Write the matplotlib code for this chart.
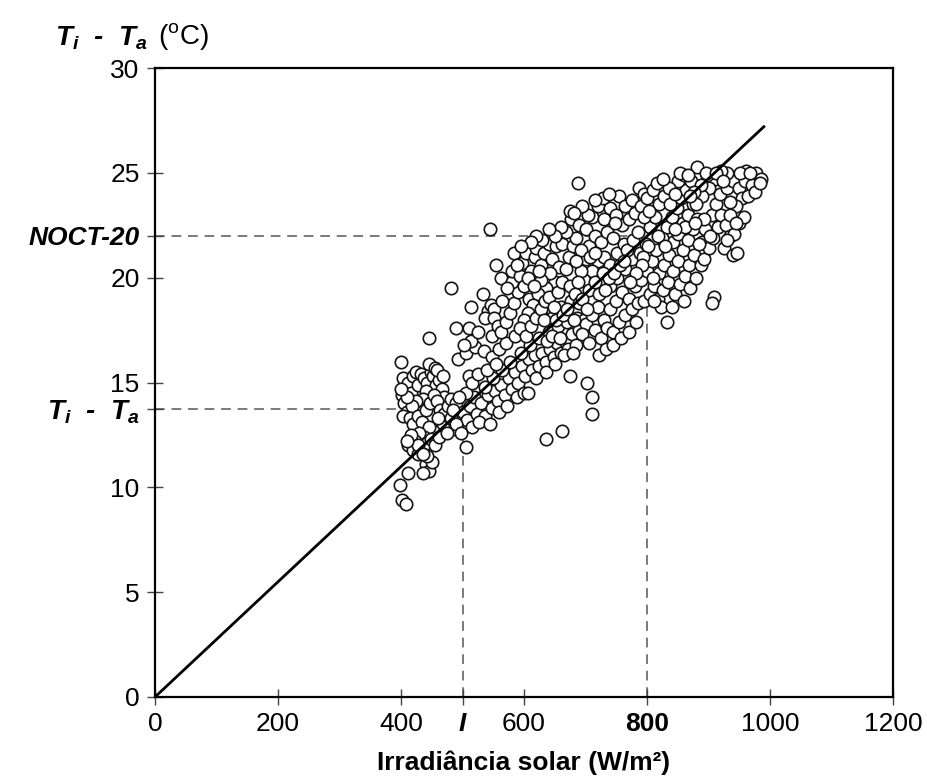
import matplotlib
matplotlib.use("Agg")
import matplotlib.pyplot as plt
import numpy as np

# ---------------- data (irradiance W/m2, Ti - Ta in degC) ----------------
left_cluster = [
    (403, 15.2), (408, 14.8), (401, 14.4), (405, 14.0), (410, 13.6), (403, 13.4), (412, 15.0), (416, 14.5),
    (420, 15.3), (425, 15.5), (428, 14.9), (432, 15.4), (438, 15.2), (443, 15.0), (448, 15.5), (452, 15.3),
    (457, 14.9), (462, 15.1), (466, 14.7), (470, 14.3), (440, 14.6), (435, 14.2), (430, 13.8), (424, 14.1),
    (418, 13.9), (414, 13.3), (420, 13.0), (427, 13.4), (434, 13.1), (441, 13.7), (447, 14.0), (453, 14.4),
    (459, 14.1), (464, 13.7), (470, 13.5), (476, 13.9), (481, 14.2), (475, 13.0), (468, 12.9), (460, 13.3),
    (452, 12.7), (445, 12.9), (437, 12.4), (430, 12.6), (423, 12.2), (416, 12.5), (412, 12.0), (419, 11.8),
    (427, 11.6), (435, 11.9), (442, 12.1), (448, 12.3), (456, 12.0), (462, 12.4), (488, 12.8), (495, 13.2),
    (482, 13.3), (490, 14.0), (409, 14.3), (446, 15.9), (455, 15.7), (412, 10.7), (440, 11.1), (446, 10.8),
    (450, 11.2), (436, 10.7), (443, 11.5), (398, 10.1), (402, 9.4), (408, 9.2), (400, 16.0), (445, 17.1),
    (475, 12.6), (428, 12.0), (409, 12.2), (435, 11.6), (400, 14.7), (458, 15.6), (468, 15.3), (506, 11.9),
]

middle_lower = [
    (500, 13.6), (507, 13.2), (512, 13.9), (518, 14.3), (523, 13.5), (530, 14.0), (536, 13.4), (542, 14.4),
    (548, 13.8), (553, 14.6), (558, 14.1), (563, 14.9), (569, 14.4), (575, 15.2), (580, 14.7), (585, 15.5),
    (591, 15.0), (596, 15.8), (602, 15.3), (608, 16.1), (613, 15.6), (618, 16.3), (624, 15.8), (630, 16.4),
    (636, 16.0), (642, 16.6), (648, 16.2), (654, 16.9), (660, 16.4), (666, 17.0), (672, 16.6), (678, 17.3),
    (684, 16.8), (690, 17.5), (505, 14.5), (515, 12.9), (527, 13.1), (545, 13.0), (560, 13.6), (572, 13.9),
    (588, 14.3), (600, 14.5), (607, 14.5), (620, 15.2), (635, 15.5), (650, 15.9), (665, 16.3), (680, 16.4),
    (490, 13.0), (497, 12.6), (485, 13.7), (494, 14.3), (537, 14.8), (550, 15.2), (565, 15.6), (578, 16.0),
    (595, 16.4), (610, 16.8), (625, 17.1), (640, 17.4), (656, 17.7), (670, 17.9), (686, 18.1), (697, 18.0),
    (703, 15.0), (711, 14.3), (711, 13.5), (674, 15.3), (662, 12.7), (635, 12.3), (492, 16.1), (505, 16.4),
    (520, 16.7), (535, 16.5), (548, 16.2), (560, 16.6), (510, 15.3), (516, 15.0), (526, 15.4), (540, 15.6),
    (555, 15.9), (570, 16.9), (585, 17.2), (598, 17.5), (612, 17.9), (628, 18.2), (645, 18.1), (660, 18.6),
    (676, 18.9),
]

middle_upper = [
    (482, 19.5), (514, 18.6), (533, 19.2), (541, 18.4), (546, 18.7), (552, 18.5), (536, 18.1), (552, 18.1),
    (490, 17.6), (511, 17.6), (514, 17.0), (525, 17.4), (503, 16.8), (548, 17.2), (557, 17.7), (563, 17.4),
    (570, 17.9), (577, 18.3), (583, 18.8), (590, 19.3), (563, 20.0), (555, 20.6), (584, 21.2), (580, 19.8),
    (580, 20.3), (544, 22.3), (593, 20.1), (597, 20.7), (604, 21.2), (600, 19.6), (608, 19.0), (612, 20.3),
    (618, 21.0), (620, 21.4), (627, 20.6), (633, 21.2), (640, 21.6), (646, 20.9), (652, 21.5), (662, 21.6),
    (657, 20.5), (650, 19.8), (642, 20.2), (635, 19.5), (628, 19.9), (622, 19.2), (615, 18.7), (607, 18.3),
    (600, 18.0), (594, 17.6), (603, 17.2), (611, 17.7), (619, 18.1), (627, 18.5), (634, 18.9), (641, 19.1),
    (648, 18.6), (655, 19.3), (662, 19.8), (668, 20.4), (673, 21.0), (679, 21.5), (685, 21.9), (668, 22.2),
    (677, 22.8), (674, 23.2), (690, 22.5), (687, 24.5), (660, 22.4), (650, 22.0), (640, 22.3), (630, 21.8),
    (620, 22.0), (611, 21.7), (700, 22.3), (711, 22.9), (720, 23.4), (730, 22.8), (740, 23.3), (750, 23.0),
    (755, 23.9), (765, 23.4), (775, 23.7), (787, 24.3), (795, 24.0), (705, 21.5), (715, 22.0), (725, 21.7),
    (735, 22.2), (745, 21.9), (760, 22.5), (770, 22.8), (780, 23.1), (790, 23.4), (720, 20.8), (710, 20.3),
    (700, 20.9), (693, 21.3), (730, 21.0), (740, 20.6), (752, 21.2), (762, 21.6), (698, 19.9), (705, 19.4),
    (715, 19.8), (728, 20.2), (692, 20.3), (684, 20.8), (675, 19.6), (683, 19.2), (690, 18.8),
]

right_cluster = [
    (700, 17.8), (710, 18.2), (720, 18.6), (730, 18.0), (740, 18.5), (750, 18.9), (760, 19.3), (770, 19.0),
    (780, 19.6), (790, 19.9), (800, 20.3), (695, 17.3), (705, 16.9), (715, 17.5), (725, 17.1), (735, 17.6),
    (745, 17.4), (755, 17.9), (765, 18.2), (775, 18.5), (785, 18.8), (795, 18.9), (805, 19.2), (812, 19.6),
    (722, 16.3), (733, 16.6), (745, 16.8), (758, 17.1), (770, 17.4), (782, 17.9), (740, 19.6), (752, 20.0),
    (765, 20.4), (776, 20.9), (788, 21.2), (798, 21.6), (808, 20.8), (820, 20.2), (828, 20.6), (835, 21.1),
    (842, 21.7), (850, 22.1), (858, 22.6), (866, 23.0), (874, 23.5), (815, 21.3), (824, 21.9), (832, 22.4),
    (840, 22.9), (848, 23.3), (856, 23.8), (864, 24.2), (872, 24.6), (881, 25.3), (850, 24.6), (860, 24.9),
    (805, 22.4), (813, 22.9), (820, 23.5), (828, 23.9), (836, 24.3), (800, 23.8), (810, 24.2), (795, 22.9),
    (802, 21.5), (818, 19.0), (826, 19.4), (834, 19.8), (842, 20.3), (850, 20.8), (858, 21.3), (866, 21.8),
    (874, 22.3), (882, 22.8), (845, 19.2), (853, 19.7), (861, 20.1), (869, 20.6), (877, 21.1), (833, 17.9),
    (822, 18.6), (812, 18.9), (840, 18.6), (860, 18.9), (870, 19.5), (880, 20.0), (888, 20.6), (890, 21.7),
    (895, 22.3), (893, 20.9), (900, 21.4), (908, 21.9), (915, 22.4), (905, 23.0), (912, 23.5), (920, 23.0),
    (928, 22.5), (935, 22.0), (925, 21.4), (940, 21.1), (946, 21.2), (909, 19.1), (906, 18.8), (918, 24.0),
    (930, 24.3), (940, 24.6), (950, 24.3), (960, 24.6), (961, 25.1), (977, 25.0), (985, 24.7), (970, 24.4),
    (955, 23.8), (945, 23.4), (935, 23.0), (965, 23.9), (950, 22.6), (942, 22.1), (930, 25.0), (920, 25.1),
    (910, 24.7), (900, 24.3), (890, 23.9), (880, 23.5), (898, 24.9), (888, 24.4), (935, 23.6), (975, 24.1),
    (983, 24.5),
]

core_extra = [
    (565, 18.9), (572, 19.5), (588, 20.6), (595, 21.5), (606, 20.0), (616, 19.6), (624, 20.3), (632, 18.0),
    (638, 17.0), (646, 17.2), (652, 18.0), (658, 17.1), (664, 18.2), (670, 18.5), (682, 18.0), (688, 19.8),
    (695, 19.0), (702, 18.5), (708, 21.0), (716, 21.2), (722, 19.2), (732, 19.4), (738, 20.0), (746, 20.2),
    (756, 20.6), (768, 21.3), (778, 21.8), (786, 22.2), (794, 21.0), (804, 23.2), (816, 24.5), (826, 24.7),
    (838, 23.5), (846, 24.0), (854, 25.0), (866, 24.9), (876, 24.1), (884, 21.6), (892, 22.8), (902, 22.0),
    (896, 25.0), (912, 25.0), (924, 24.6), (952, 25.0), (968, 25.0), (958, 22.9), (944, 22.6), (930, 21.8),
    (862, 22.4), (870, 23.9), (878, 22.6), (818, 22.0), (830, 21.5), (846, 22.3), (810, 20.0), (792, 20.6),
    (782, 20.2), (772, 19.8), (762, 20.8), (748, 22.6), (728, 23.8), (738, 24.0), (716, 23.7), (704, 23.0),
    (694, 23.4), (682, 23.1),
]

fit_x = [0, 990]
fit_y = [0, 27.2]
noct_level = 22.0
noct_irr = 800
op_level = 13.75
op_irr = 500

x_ticks = [0, 200, 400, 500, 600, 800, 1000, 1200]
x_tick_labels = ["0", "200", "400", "I", "600", "800", "1000", "1200"]
y_ticks = [0, 5, 10, 13.75, 15, 20, 22, 25, 30]
ta_label = r"$\mathbf{T_i}$  -  $\mathbf{T_a}$"
y_tick_labels = ["0", "5", "10", ta_label, "15", "20", "NOCT-20", "25", "30"]

# ---------------- style ----------------
plt.rcParams["font.family"] = ["Liberation Sans", "DejaVu Sans"]
plt.rcParams["mathtext.fontset"] = "custom"
plt.rcParams["mathtext.bf"] = "Liberation Sans:bold:italic"
plt.rcParams["mathtext.rm"] = "Liberation Sans"
plt.rcParams["mathtext.it"] = "Liberation Sans:italic"

fig = plt.figure(figsize=(9.28, 7.82), dpi=100)
ax = fig.add_axes([155 / 928, 1 - 697 / 782, (893 - 155) / 928, (697 - 68) / 782])

pts = np.array(left_cluster + middle_lower + middle_upper + right_cluster + core_extra, dtype=float)

dash = (0, (5, 3.5))
dcol = "#7a7a7a"
ax.plot([0, noct_irr], [noct_level, noct_level], ls=dash, color=dcol, lw=1.4, zorder=1)
ax.plot([noct_irr, noct_irr], [0, noct_level], ls=dash, color=dcol, lw=1.4, zorder=1)
ax.plot([0, op_irr], [op_level, op_level], ls=dash, color=dcol, lw=1.4, zorder=1)
ax.plot([op_irr, op_irr], [0, op_level], ls=dash, color=dcol, lw=1.4, zorder=1)

ax.scatter(pts[:, 0], pts[:, 1], s=80, facecolors="white", edgecolors="#151515",
           linewidths=1.2, zorder=3)
ax.plot(fit_x, fit_y, color="black", lw=2.0, zorder=4)

ax.set_xlim(0, 1200)
ax.set_ylim(0, 30)
for s in ax.spines.values():
    s.set_linewidth(1.6)

ax.set_xticks(x_ticks)
ax.set_xticklabels(x_tick_labels, fontsize=19)
ax.set_yticks(y_ticks)
ax.set_yticklabels(y_tick_labels, fontsize=19)
ax.tick_params(axis="x", direction="inout", length=12, width=1.0, pad=5, color="#444444")
ax.tick_params(axis="y", direction="inout", length=12, width=1.0, pad=5, color="#444444")

for t in ax.get_xticklabels():
    if t.get_text() == "I":
        t.set_fontweight("bold")
        t.set_fontstyle("italic")
    if t.get_text() == "800":
        t.set_fontweight("bold")
for t in ax.get_yticklabels():
    if t.get_text() in ("NOCT-20", ta_label):
        t.set_fontweight("bold")
        t.set_fontstyle("italic")
        if t.get_text() == ta_label:
            t.set_fontsize(20)

fig.text(524 / 928, 1 - 763 / 782, "Irradiância solar (W/m²)", fontsize=19,
         fontweight="bold", ha="center", va="center")
fig.text(55 / 928, 1 - 38 / 782, ta_label, fontsize=20,
         fontweight="bold", fontstyle="italic", ha="left", va="center")
fig.text(158 / 928, 1 - 36 / 782, r"($^{\mathrm{o}}$C)", fontsize=20,
         ha="left", va="center")

fig.savefig("out.png", dpi=100)
